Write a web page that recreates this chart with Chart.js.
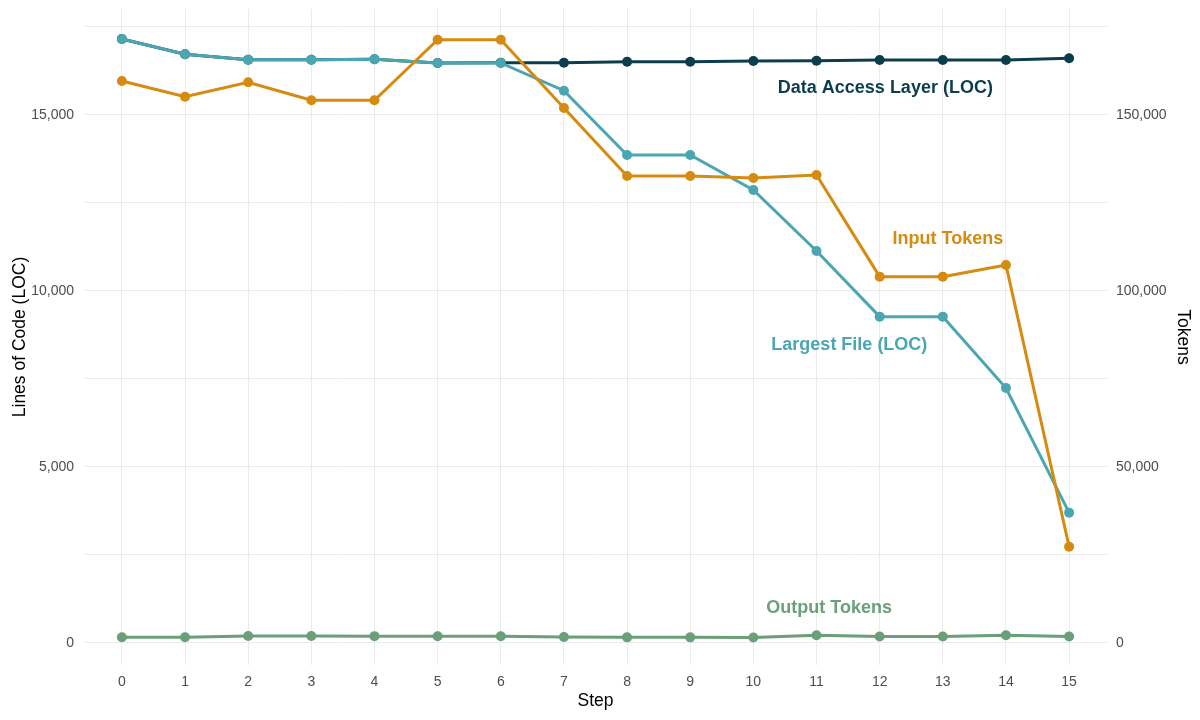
<!DOCTYPE html>
<html>
<head>
<meta charset="utf-8">
<script src="https://cdn.jsdelivr.net/npm/chart.js@4.4.1/dist/chart.umd.min.js"></script>
<style>
html,body{margin:0;padding:0;background:#fff;}
#wrap{width:1200px;height:720px;position:relative;}
</style>
</head>
<body>
<div id="wrap"><canvas id="c" width="1200" height="720"></canvas></div>
<script>
const steps = [0,1,2,3,4,5,6,7,8,9,10,11,12,13,14,15];
const dataAccessLayerLOC = [17159,16724,16571,16571,16582,16477,16486,16486,16514,16514,16534,16543,16562,16562,16562,16611];
const largestFileLOC = [17159,16724,16571,16571,16582,16477,16477,15690,13864,13864,12869,11136,9271,9271,7244,3703];
const inputTokens = [159659,155199,159290,154176,154176,171392,171392,151989,132670,132670,132102,132955,104072,104072,107386,27367];
const outputTokens = [1610,1610,1990,1990,1950,1900,1900,1700,1600,1600,1560,2200,1850,1850,2200,1850];
const leftTickValues = [0,5000,10000,15000];
const leftTickLabels = ["0","5,000","10,000","15,000"];
const leftMinorValues = [2500,7500,12500,17500];
const rightTickValues = [0,50000,100000,150000];
const rightTickLabels = ["0","50,000","100,000","150,000"];

const C_DARK = "#0b3d4d", C_TEAL = "#4aa6b1", C_ORANGE = "#d58b10", C_GREEN = "#6a9f77";
const FONT = "'Liberation Sans', Arial, Helvetica, sans-serif";

function pts(vals){ return steps.map((s,i)=>({x:s,y:vals[i]})); }
function ds(label, vals, color, axis, order){
  return {label, data: pts(vals), borderColor: color, backgroundColor: color,
    pointBackgroundColor: color, pointBorderColor: color, borderWidth: 3,
    pointRadius: 5, pointBorderWidth: 0, pointHoverRadius: 5, tension: 0,
    yAxisID: axis, order};
}

const annotations = [
  {text:"Data Access Layer (LOC)", x:12.09, y:15767, axis:"y", color:C_DARK},
  {text:"Input Tokens", x:13.08, y:114773, axis:"y2", color:C_ORANGE},
  {text:"Largest File (LOC)", x:11.52, y:8466, axis:"y", color:C_TEAL},
  {text:"Output Tokens", x:11.2, y:9943, axis:"y2", color:C_GREEN}
];

const labelPlugin = {
  id:"labels",
  afterDatasetsDraw(chart){
    const ctx = chart.ctx;
    ctx.save();
    ctx.font = "bold 18px " + FONT;
    ctx.textAlign = "center";
    ctx.textBaseline = "middle";
    annotations.forEach(a=>{
      ctx.fillStyle = a.color;
      ctx.fillText(a.text, chart.scales.x.getPixelForValue(a.x), chart.scales[a.axis].getPixelForValue(a.y));
    });
    ctx.restore();
  }
};

function labelFor(values, labels){
  return (v)=>{ const i = values.indexOf(v); return i >= 0 ? labels[i] : ""; };
}
function noPad(s){ s.paddingTop = 0; s.paddingBottom = 0; s.paddingLeft = 0; s.paddingRight = 0; }

new Chart(document.getElementById("c"), {
  type: "line",
  data: { datasets: [
    ds("Data Access Layer (LOC)", dataAccessLayerLOC, C_DARK, "y", 3),
    ds("Largest File (LOC)", largestFileLOC, C_TEAL, "y", 2),
    ds("Input Tokens", inputTokens, C_ORANGE, "y2", 1),
    ds("Output Tokens", outputTokens, C_GREEN, "y2", 0)
  ]},
  options: {
    responsive: false, animation: false, devicePixelRatio: 1,
    layout: { padding: { top: 9, left: 0, right: 0, bottom: 0 } },
    plugins: { legend: { display: false }, tooltip: { enabled: false } },
    scales: {
      x: {
        type: "linear", position: "bottom", min: -0.6, max: 15.6,
        afterFit(s){ s.height = 55; noPad(s); },
        afterBuildTicks(s){ s.ticks = steps.map(v=>({value:v})); },
        border: { display: false },
        grid: { color: "#ebebeb", lineWidth: 1, drawTicks: false },
        ticks: { autoSkip: false, padding: 9, color: "#4d4d4d", maxRotation: 0,
          font: { family: FONT, size: 14 },
          callback: (v)=> String(v) },
        title: { display: true, text: "Step", color: "#000", font: { family: FONT, size: 17.5 }, padding: { top: 0, bottom: 8 } }
      },
      y: {
        type: "linear", position: "left", min: -625, max: 18011,
        afterFit(s){ s.width = 84; noPad(s); },
        afterBuildTicks(s){ s.ticks = leftTickValues.concat(leftMinorValues).sort((a,b)=>a-b).map(v=>({value:v})); },
        border: { display: false },
        grid: { color: "#ebebeb", lineWidth: 1, drawTicks: false },
        ticks: { autoSkip: false, padding: 10, color: "#4d4d4d",
          font: { family: FONT, size: 14 },
          callback: labelFor(leftTickValues, leftTickLabels) },
        title: { display: true, text: "Lines of Code (LOC)", color: "#000", font: { family: FONT, size: 17.5 }, padding: { top: 10, bottom: 0 } }
      },
      y2: {
        type: "linear", position: "right", min: -6250, max: 180110,
        afterFit(s){ s.width = 93; noPad(s); },
        afterBuildTicks(s){ s.ticks = rightTickValues.map(v=>({value:v})); },
        border: { display: false },
        grid: { display: false, drawTicks: false },
        ticks: { autoSkip: false, padding: 9, color: "#4d4d4d",
          font: { family: FONT, size: 14 },
          callback: labelFor(rightTickValues, rightTickLabels) },
        title: { display: true, text: "Tokens", color: "#000", font: { family: FONT, size: 17.5 }, padding: { top: 7, bottom: 0 } }
      }
    }
  },
  plugins: [labelPlugin]
});
</script>
</body>
</html>
